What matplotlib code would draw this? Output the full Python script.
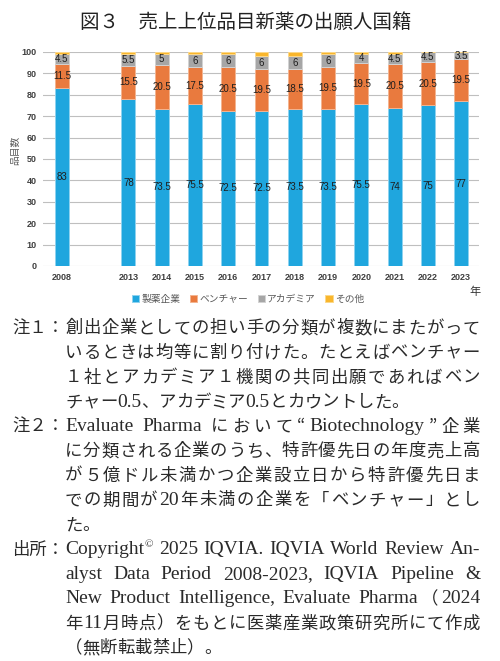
import re
import numpy as np
import matplotlib
matplotlib.use('Agg')
import matplotlib.pyplot as plt

# chart data (blank slot between 2008 and 2013, as in the original)
years = ['2008', '', '2013', '2014', '2015', '2016', '2017', '2018', '2019',
         '2020', '2021', '2022', '2023']
pharma = [83, 0, 78, 73.5, 75.5, 72.5, 72.5, 73.5, 73.5, 75.5, 74, 75, 77]
venture = [11.5, 0, 15.5, 20.5, 17.5, 20.5, 19.5, 18.5, 19.5, 19.5, 20.5, 20.5, 19.5]
academia = [4.5, 0, 5.5, 5, 6, 6, 6, 6, 6, 4, 4.5, 4.5, 3.5]
other = [1, 0, 1, 1, 1, 1, 2, 2, 1, 1, 1, 0, 0]
series_names = ['製薬企業', 'ベンチャー', 'アカデミア', 'その他']

title = '図３　売上上位品目新薬の出願人国籍'

note1 = ['創出企業としての担い手の分類が複数にまたがって',
         'いるときは均等に割り付けた。たとえばベンチャー',
         '１社とアカデミア１機関の共同出願であればベン',
         'チャー0.5、アカデミア0.5とカウントした。']
note2 = ['Evaluate Pharma において“Biotechnology”企業',
         'に分類される企業のうち、特許優先日の年度売上高',
         'が５億ドル未満かつ企業設立日から特許優先日ま',
         'での期間が20年未満の企業を「ベンチャー」とし',
         'た。']
source = ['Copyright© 2025 IQVIA. IQVIA World Review An-',
          'alyst Data Period 2008-2023, IQVIA Pipeline &',
          'New Product Intelligence, Evaluate Pharma（2024',
          '年11月時点）をもとに医薬産業政策研究所にて作成',
          '（無断転載禁止）。']

W, H = 500, 661
fig = plt.figure(figsize=(W / 100, H / 100), dpi=100)
renderer = fig.canvas.get_renderer()

cjk = ['Noto Sans CJK JP', 'DejaVu Sans']
tick_font = dict(family='Liberation Sans', fontsize=6.5, color='#404040', fontweight='bold')

fig.text(245.5 / W, 1 - 22 / H, title, family=cjk, fontsize=14, color='#222222',
         ha='center', va='center')

# --- bar chart ---
ax = fig.add_axes([43 / W, 1 - 266 / H, (479 - 43) / W, (266 - 52) / H])
x = np.arange(len(years))
colors = ['#1fa6de', '#e97a3e', '#a6a6a6', '#f9b62c']
edges = ['#8fd2f0', '#f3b490', '#d2d2d2', '#fcd88a']
bottom = np.zeros(len(years))
for vals, name, c, e, lab in zip([pharma, venture, academia, other], series_names,
                                  colors, edges, [True, True, True, False]):
    vals = np.array(vals, dtype=float)
    ax.bar(x, vals, 0.42, bottom=bottom, color=c, edgecolor=e, linewidth=0.7,
           label=name, zorder=3)
    if lab:
        for xi, v, b in zip(x, vals, bottom):
            if v > 0:
                ax.text(xi, b + v / 2, f'{v:g}', ha='center', va='center',
                        family='Liberation Sans', fontsize=7, color='#1e1e1e', zorder=4)
    bottom += vals

ax.set_xlim(-0.57, 12.54)
ax.set_ylim(0, 100)
ax.set_yticks(range(0, 101, 10))
ax.set_xticks(x)
ax.set_xticklabels(years, **tick_font)
for t in ax.get_yticklabels():
    t.set(**tick_font)
ax.tick_params(length=0)
ax.tick_params(axis='y', pad=4.5)
ax.tick_params(axis='x', pad=5)
ax.grid(axis='y', color='#bfbfbf', linewidth=0.8)
ax.set_axisbelow(True)
for s in ax.spines.values():
    s.set_visible(False)

fig.text(15 / W, 1 - 150 / H, '品目数', rotation=90, family=cjk, fontsize=7,
         color='#595959', ha='center', va='center')
fig.text(475 / W, 1 - 292 / H, '年', family=cjk, fontsize=8, color='#333333',
         ha='center', va='center')
fig.legend(loc='center', bbox_to_anchor=(248 / W, 1 - 299 / H), ncol=4, frameon=False,
           prop={'family': cjk, 'size': 7}, labelcolor='#595959',
           handlelength=0.75, handleheight=0.75, handletextpad=0.2, columnspacing=1.0)

# --- notes, justified line by line ---
jp_font = dict(family=['Noto Sans CJK JP', 'DejaVu Sans'], fontsize=12.5, color='#2a2a2a')
en_font = dict(family='Liberation Serif', fontsize=14, color='#2a2a2a')
sup_font = dict(family='Liberation Serif', fontsize=8, color='#2a2a2a')


def tok_font(t):
    if t == '©':
        return sup_font
    if re.fullmatch(r"[\x21-\x7e ]+", t):
        return en_font
    return jp_font


def ink_width(s, font):
    t = fig.text(0, 0, s, **font)
    w = t.get_window_extent(renderer).width
    t.remove()
    return w


def advance(s, font):
    # pen advance of s, measured between two bars
    return ink_width('|' + s + '|', font) - ink_width('||', font)


space_w = advance(' ', en_font)


def put_line(s, x0, y, x1=None):
    # tokens: ascii words or single other chars; a leading space stays with its token
    toks = re.findall(r" ?(?:[\x21-\x7e]+|[^ ])", s)
    widths = [advance(t.strip(), tok_font(t.strip())) for t in toks]
    lead = [space_w if t.startswith(' ') else 0 for t in toks]
    if x1 is None:
        extra = 0
    else:
        extra = (x1 - x0 - sum(widths) - sum(lead)) / (len(toks) - 1)
    xx = x0
    for t, w, sp in zip(toks, widths, lead):
        t = t.strip()
        xx += sp
        dy = -5 if t == '©' else 0
        fig.text(xx / W, 1 - (y + dy) / H, t, ha='left', va='center', **tok_font(t))
        xx += w + extra


y0, step = 328.3, 24.6
row = 0
for prefix, lines in [('注１：', note1), ('注２：', note2), ('出所：', source)]:
    fig.text(12 / W, 1 - (y0 + row * step) / H, prefix, ha='left', va='center', **jp_font)
    for i, line in enumerate(lines):
        last = i == len(lines) - 1
        put_line(line, 65, y0 + row * step, None if last else 480)
        row += 1

fig.savefig('out.png', dpi=100)
